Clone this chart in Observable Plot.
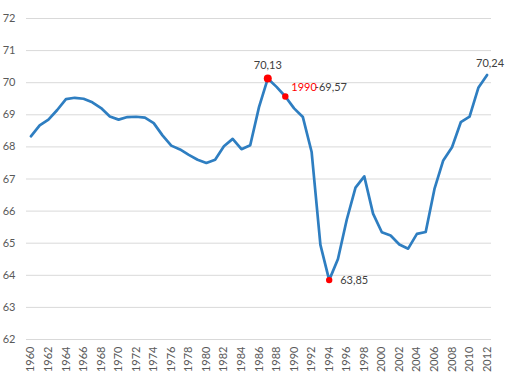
<!DOCTYPE html>
<html>
<head>
<meta charset="utf-8">
<script src="https://cdn.jsdelivr.net/npm/d3@7"></script>
<script src="https://cdn.jsdelivr.net/npm/@observablehq/plot@0.6"></script>
<style>
  html, body { margin: 0; padding: 0; background: white; }
  #chart svg { display: block; }
</style>
</head>
<body>
<div id="chart"></div>
<script>
const years = d3.range(1960, 2013);
const values = [
  68.33, 68.67, 68.85, 69.15, 69.49, 69.53, 69.50, 69.39, 69.21, 68.95,
  68.85, 68.93, 68.94, 68.91, 68.74, 68.36, 68.04, 67.92, 67.75, 67.60,
  67.50, 67.60, 68.02, 68.25, 67.93, 68.05, 69.24, 70.13, 69.87, 69.57,
  69.20, 68.93, 67.84, 64.95, 63.85, 64.51, 65.73, 66.73, 67.08, 65.92,
  65.34, 65.24, 64.96, 64.83, 65.29, 65.35, 66.69, 67.58, 67.99, 68.77,
  68.94, 69.84, 70.24
];
const yTicks = [62, 63, 64, 65, 66, 67, 68, 69, 70, 71, 72];
const xTicks = d3.range(1960, 2013, 2);

const peak = [{year: 1987, value: 70.13, label: "70,13"}];
const mark1990 = [{year: 1989, value: 69.57, tag: "1990", label: "-69,57"}];
const low = [{year: 1994, value: 63.85, label: "63,85"}];
const last = [{year: 2012, value: 70.24, label: "70,24"}];

const data = years.map((y, i) => ({year: y, value: values[i]}));

const chart = Plot.plot({
  width: 511,
  height: 391,
  marginLeft: 26,
  marginRight: 20,
  marginTop: 18,
  marginBottom: 52,
  x: {domain: [1959.5, 2012.5]},
  y: {domain: [62, 72]},
  style: {fontFamily: "Lato, 'Open Sans', sans-serif", fontSize: "11px", color: "#595959", background: "white"},
  marks: [
    Plot.gridY(yTicks, {stroke: "#d9d9d9", strokeOpacity: 1, strokeWidth: 1}),
    Plot.axisY(yTicks, {tickSize: 0, tickPadding: 11, label: null, fill: "#595959"}),
    Plot.axisX(xTicks, {tickSize: 0, tickPadding: 7, tickRotate: -90, tickFormat: d => String(d), label: null, fill: "#595959"}),
    Plot.line(data, {x: "year", y: "value", stroke: "#2E7EC1", strokeWidth: 2.7, strokeLinejoin: "round"}),
    Plot.dot(peak, {x: "year", y: "value", r: 4, fill: "#ff0000"}),
    Plot.dot(mark1990, {x: "year", y: "value", r: 3.2, fill: "#ff0000"}),
    Plot.dot(low, {x: "year", y: "value", r: 3.2, fill: "#ff0000"}),
    Plot.text(peak, {x: "year", y: "value", text: "label", dy: -13, fill: "#404040", fontSize: 11}),
    Plot.text(mark1990, {x: "year", y: "value", text: "tag", dx: 6, dy: -9, textAnchor: "start", fill: "#ff0000", fontSize: 11}),
    Plot.text(mark1990, {x: "year", y: "value", text: "label", dx: 29.5, dy: -9, textAnchor: "start", fill: "#404040", fontSize: 11}),
    Plot.text(low, {x: "year", y: "value", text: "label", dx: 11, textAnchor: "start", fill: "#404040", fontSize: 11}),
    Plot.text(last, {x: "year", y: "value", text: "label", dx: 3, dy: -12, fill: "#404040", fontSize: 11})
  ]
});
document.getElementById("chart").appendChild(chart);
</script>
</body>
</html>
